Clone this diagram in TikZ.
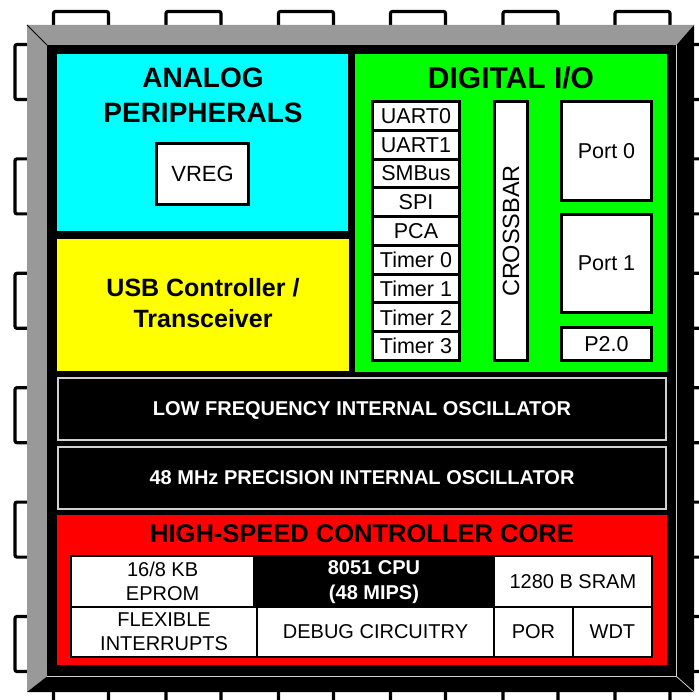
\documentclass[tikz,border=0pt]{standalone}
\usepackage{fontspec}
\setmainfont{Liberation Sans}
\definecolor{bevelgray}{HTML}{999999}
\definecolor{chipcyan}{HTML}{00FFFF}
\definecolor{chipyellow}{HTML}{FFFF00}
\definecolor{chipgreen}{HTML}{00FF00}
\definecolor{chipred}{HTML}{FF0000}
\definecolor{edgegray}{HTML}{D0D0D0}
\begin{document}
\begin{tikzpicture}[x=1pt,y=-1pt,
  pinbox/.style={draw=black,line width=3.2pt,fill=white,rounded corners=2pt},
  title/.style={anchor=base,inner sep=0pt,font=\bfseries\fontsize{28}{34}\selectfont},
  unit/.style={draw=black,line width=3pt,fill=white,inner sep=0pt,text depth=0pt,font=\fontsize{21.5}{26}\selectfont},
  osc/.style={draw=edgegray,line width=1.3pt,fill=black,text=white,inner sep=0pt,text depth=0pt,minimum width=608pt,minimum height=62pt,font=\bfseries\fontsize{20}{24}\selectfont},
  cell/.style={draw=black,line width=2.5pt,fill=white,inner sep=0pt,align=center,font=\fontsize{20}{24}\selectfont},
  bevelline/.style={draw=edgegray,line width=0.8pt},
]
\useasboundingbox (0,0) rectangle (698,700);

% pins
\foreach \px in {52,164.5,277,389,501.5,613.5} {
  \draw[pinbox] (\px+1.5,11.5) rectangle (\px+56.5,40);
  \draw[pinbox] (\px+1.5,680) rectangle (\px+56.5,712);
}
\foreach \py in {43,157.4,271.8,386.2,500.6,615} {
  \draw[pinbox] (15,\py+1.5) rectangle (40,\py+56.5);
  \draw[pinbox] (680,\py+1.5) rectangle (712,\py+56.5);
}

% chip body with bevel
\fill[bevelgray] (27,25) -- (694,25) -- (676.5,45) -- (47,45) -- cycle;
\fill[bevelgray] (27,25) -- (47,45) -- (47,676.5) -- (27,692) -- cycle;
\fill[black] (694,25) -- (694,692) -- (27,692) -- (47,676.5) -- (676.5,676.5) -- (676.5,45) -- cycle;
\fill[black] (47,45) rectangle (676.5,676.5);
\draw[black,line width=0.8pt] (27,25) -- (47,45);
\draw[bevelline] (676.5,45) -- (676.5,676.5) -- (47,676.5);
\draw[bevelline] (676.5,676.5) -- (694,692);

% coloured areas
\fill[chipcyan] (57,54) rectangle (348,231);
\fill[chipyellow] (57,239) rectangle (349,371);
\fill[chipgreen] (355,54) rectangle (667,372);
\fill[chipred] (57,515) rectangle (667,665);

% analog peripherals
\node[title] (analog1) at (203,87.3) {ANALOG};
\node[title] (analog2) at (203,122.3) {PERIPHERALS};
\node[draw=black,line width=2.5pt,fill=white,inner sep=0pt,minimum width=92pt,minimum height=61pt,font=\fontsize{22}{26}\selectfont] (vreg) at (202.5,174) {VREG};

% USB
\node[title,font=\bfseries\fontsize{25}{30}\selectfont] (usb1) at (203,296.7) {USB Controller /};
\node[title,font=\bfseries\fontsize{25}{30}\selectfont] (usb2) at (203,327.3) {Transceiver};

% digital I/O
\node[title,font=\bfseries\fontsize{30}{36}\selectfont] (dio) at (511,88.3) {DIGITAL I/O};
\foreach \t [count=\i from 0] in {UART0,UART1,SMBus,SPI,PCA,Timer 0,Timer 1,Timer 2,Timer 3}
  \node[unit,minimum width=87pt,minimum height=28.78pt] (u\i) at (416,115.89+28.78*\i) {\t};
\node[unit,rotate=90,minimum width=259pt,minimum height=33pt,font=\fontsize{23.5}{28}\selectfont] (xbar) at (511,231) {CROSSBAR};
\node[unit,minimum width=90pt,minimum height=99pt] (p0) at (606.5,151) {Port 0};
\node[unit,minimum width=90pt,minimum height=98.3pt] (p1) at (606.5,263.6) {Port 1};
\node[unit,minimum width=90pt,minimum height=33pt] (p2) at (606.5,344) {P2.0};

% oscillators
\node[osc] (lfo) at (362,409) {LOW FREQUENCY INTERNAL OSCILLATOR};
\node[osc] (hfo) at (362,478) {48 MHz PRECISION INTERNAL OSCILLATOR};

% core
\node[title,font=\bfseries\fontsize{25.5}{30}\selectfont] (core) at (362,542.7) {HIGH-SPEED CONTROLLER CORE};
\node[cell,minimum width=182.75pt,minimum height=50.75pt] (eprom) at (162.6,581.6) {16/8 KB\\EPROM};
\node[cell,fill=black,text=white,font=\bfseries\fontsize{20}{25}\selectfont,minimum width=240pt,minimum height=50.75pt] (cpu) at (374,581.6) {8051 CPU\\(48 MIPS)};
\node[cell,minimum width=157.75pt,minimum height=50.75pt] (sram) at (572.9,581.6) {1280 B SRAM};
\node[cell,minimum width=185.75pt,minimum height=49.75pt] (flex) at (164.1,631.9) {FLEXIBLE\\INTERRUPTS};
\node[cell,minimum width=237pt,minimum height=49.75pt] (debug) at (375.5,631.9) {DEBUG CIRCUITRY};
\node[cell,minimum width=79pt,minimum height=49.75pt] (por) at (533.5,631.9) {POR};
\node[cell,minimum width=78.75pt,minimum height=49.75pt] (wdt) at (612.4,631.9) {WDT};
\end{tikzpicture}
\end{document}
